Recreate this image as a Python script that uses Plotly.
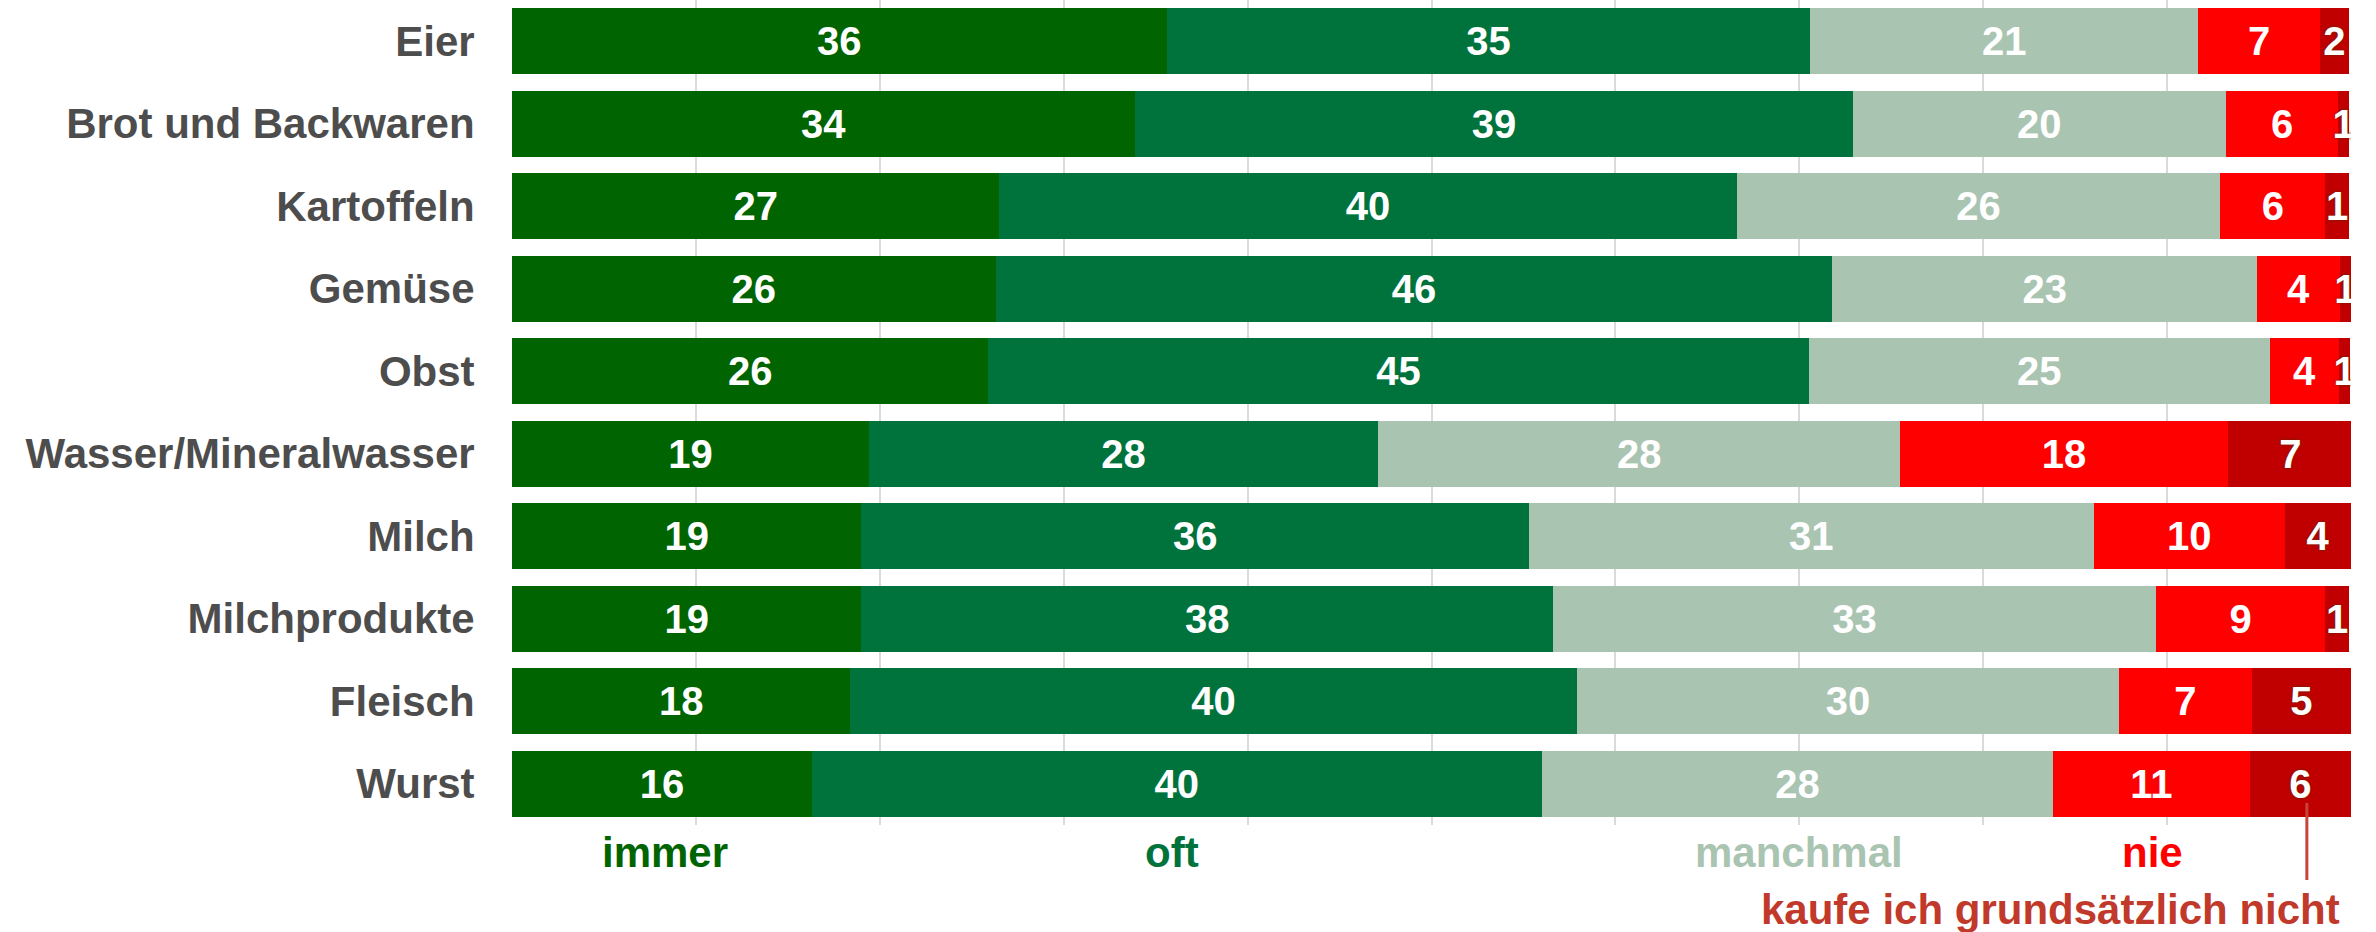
import plotly.graph_objects as go

categories = ["Eier", "Brot und Backwaren", "Kartoffeln", "Gemüse", "Obst",
              "Wasser/Mineralwasser", "Milch", "Milchprodukte", "Fleisch", "Wurst"]

series_names = ["immer", "oft", "manchmal", "nie", "kaufe ich grundsätzlich nicht"]

# bar widths (percent)
immer    = [35.6, 33.9, 26.5, 26.3, 25.9, 19.4, 19.0, 19.0, 18.4, 16.3]
oft      = [35.0, 39.0, 40.1, 45.5, 44.6, 27.7, 36.3, 37.6, 39.5, 39.7]
manchmal = [21.1, 20.3, 26.3, 23.1, 25.1, 28.4, 30.7, 32.8, 29.5, 27.8]
nie      = [6.6, 6.1, 5.7, 4.5, 3.75, 17.8, 10.4, 9.2, 7.2, 10.7]
kaufe    = [1.6, 0.6, 1.3, 0.6, 0.6, 6.8, 3.6, 1.3, 5.4, 5.5]

# printed labels (rounded percentages)
immer_lbl    = [36, 34, 27, 26, 26, 19, 19, 19, 18, 16]
oft_lbl      = [35, 39, 40, 46, 45, 28, 36, 38, 40, 40]
manchmal_lbl = [21, 20, 26, 23, 25, 28, 31, 33, 30, 28]
nie_lbl      = [7, 6, 6, 4, 4, 18, 10, 9, 7, 11]
kaufe_lbl    = [2, 1, 1, 1, 1, 7, 4, 1, 5, 6]

colors = ["#006400", "#00733D", "#AAC4B2", "#FF0000", "#C00000"]
legend_text_colors = ["#006400", "#00733D", "#AAC4B2", "#FF0000", "#C0392B"]
legend_x = [8.3, 35.9, 70.0, 89.2, 99.5]

FONT = "Liberation Sans, Arial, sans-serif"

values = [immer, oft, manchmal, nie, kaufe]
labels = [immer_lbl, oft_lbl, manchmal_lbl, nie_lbl, kaufe_lbl]

fig = go.Figure()
for i, (name, vals, lbls, col) in enumerate(zip(series_names, values, labels, colors)):
    tf = dict(family=FONT, size=40, color="white", weight="bold")
    if i == 4:
        tf["shadow"] = "0px 0px 3px #5A2A00"
    fig.add_trace(go.Bar(
        y=categories, x=vals, name=name, orientation="h",
        marker=dict(color=col, line=dict(width=0)),
        text=[str(v) for v in lbls], textposition="inside",
        insidetextanchor="middle", textangle=0, constraintext="none",
        textfont=tf, insidetextfont=tf, cliponaxis=True,
        hoverinfo="skip",
    ))

fig.update_layout(
    barmode="stack", bargap=0.2,
    width=2376, height=932,
    margin=dict(l=512, r=25, t=0, b=107),
    paper_bgcolor="white", plot_bgcolor="white",
    showlegend=False,
    uniformtext=dict(minsize=40, mode="show"),
    font=dict(family=FONT),
)
fig.update_xaxes(range=[0, 100], dtick=10, showgrid=True, gridcolor="#DADADA",
                 gridwidth=2, zeroline=False, showticklabels=False, showline=False)
fig.update_yaxes(autorange="reversed", showgrid=False, zeroline=False,
                 ticks="outside", ticklen=28, tickcolor="rgba(0,0,0,0)",
                 tickfont=dict(family=FONT, size=42, color="#4D4D4D", weight="bold"))

# category legend labels under the bars
for i, (name, x, c) in enumerate(zip(series_names, legend_x, legend_text_colors)):
    if i < 4:
        fig.add_annotation(x=x, y=-0.033, xref="x", yref="paper", text=name,
                           showarrow=False, xanchor="center", yanchor="middle",
                           font=dict(family=FONT, size=42, color=c, weight="bold"))
    else:
        fig.add_annotation(x=x, y=-0.1025, xref="x", yref="paper", text=name,
                           showarrow=False, xanchor="right", yanchor="middle",
                           font=dict(family=FONT, size=42, color=c, weight="bold"))

fig.add_shape(type="line", xref="x", yref="paper", x0=97.6, x1=97.6,
              y0=0.0267, y1=-0.0667, line=dict(color="#C8433A", width=3))

fig.write_html("out.html",
               config={"displayModeBar": False},
               post_script="document.body.style.margin='0px';document.body.style.overflow='hidden';")
